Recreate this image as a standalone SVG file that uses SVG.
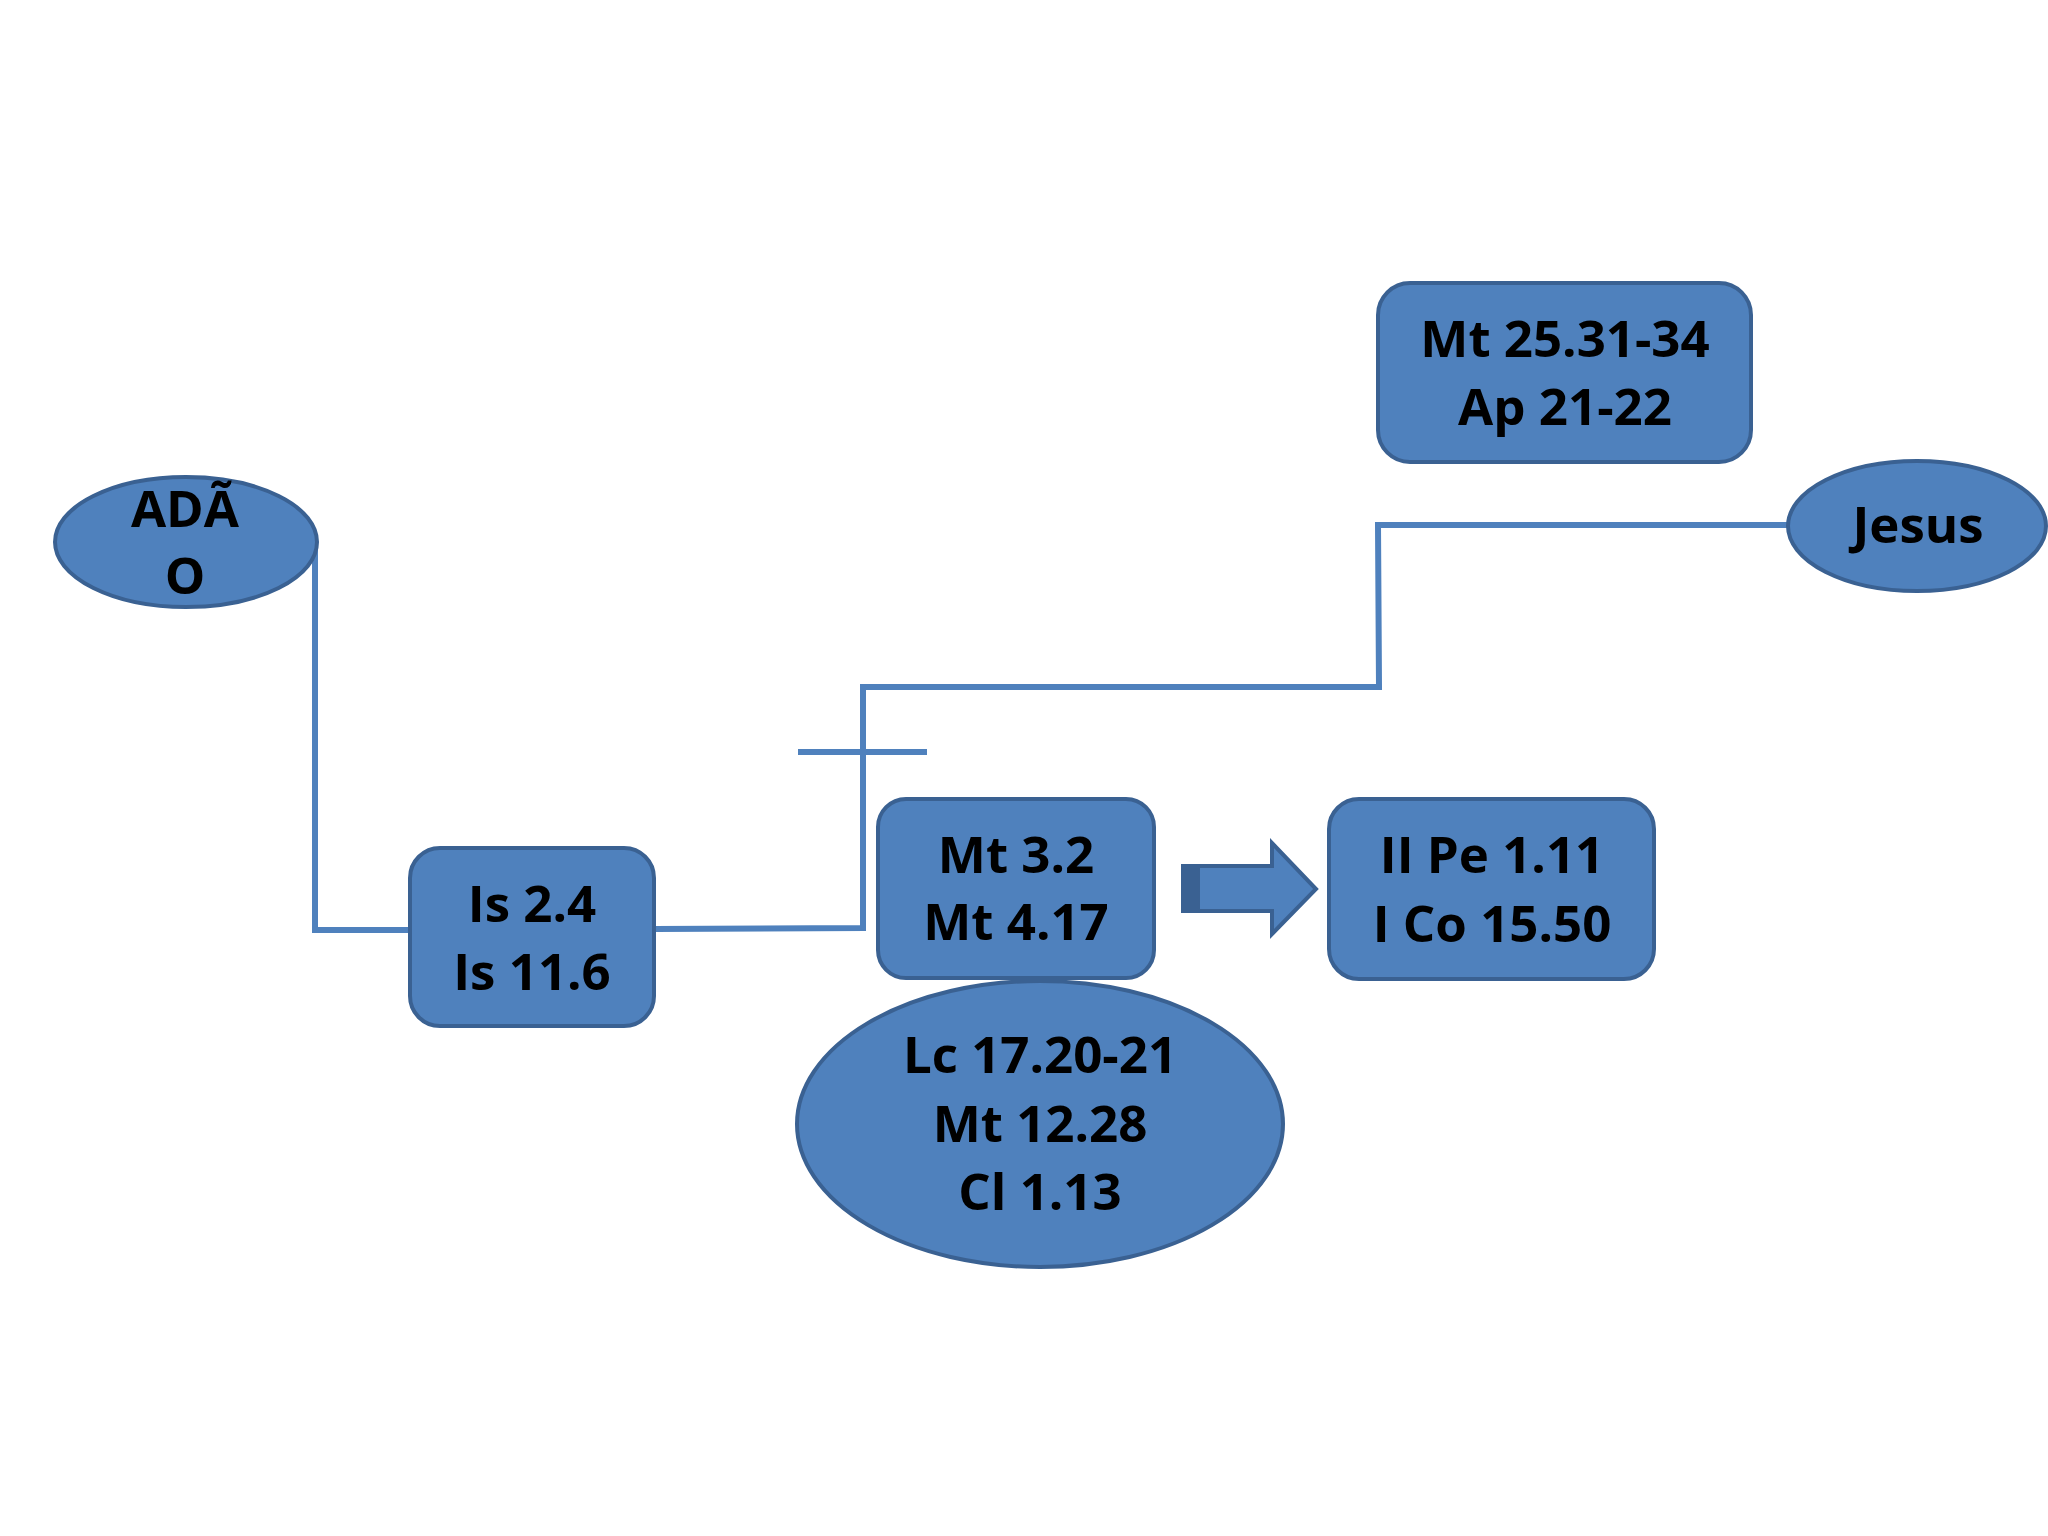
<svg xmlns="http://www.w3.org/2000/svg" width="2048" height="1536" viewBox="0 0 2048 1536">
<style>
.shape{fill:#4F81BD;stroke:#3A6192;stroke-width:4}
.lbl{font-family:"Open Sans","Liberation Sans",sans-serif;font-weight:700;font-size:51px;fill:#000;text-anchor:middle}
.conn{fill:none;stroke:#4F81BD;stroke-width:6}
</style>
<rect width="2048" height="1536" fill="#fff"/>
<g id="connectors">
<polyline class="conn" points="315,542 315,930 409,930"/>
<polyline class="conn" points="655,929 863,928 863,687 1379,687 1378,525 1787,525"/>
<line class="conn" x1="798" y1="752" x2="927" y2="752"/>
</g>
<g id="adao">
<ellipse class="shape" cx="186" cy="542" rx="131" ry="65"/>
<text class="lbl" x="185" y="527">ADÃ</text>
<text class="lbl" x="185" y="594">O</text>
</g>
<g id="mt25">
<rect class="shape" x="1378" y="283" width="373" height="179" rx="32"/>
<text class="lbl" x="1565" y="357">Mt 25.31-34</text>
<text class="lbl" x="1565" y="425">Ap 21-22</text>
</g>
<g id="jesus">
<ellipse class="shape" cx="1917" cy="526" rx="129" ry="65"/>
<text class="lbl" x="1918" y="543">Jesus</text>
</g>
<g id="is">
<rect class="shape" x="410" y="848" width="244" height="178" rx="30"/>
<text class="lbl" x="532" y="922">Is 2.4</text>
<text class="lbl" x="532" y="990">Is 11.6</text>
</g>
<g id="lc">
<ellipse class="shape" cx="1040" cy="1124" rx="243" ry="143"/>
<text class="lbl" x="1040" y="1073">Lc 17.20-21</text>
<text class="lbl" x="1040" y="1142">Mt 12.28</text>
<text class="lbl" x="1040" y="1210">Cl 1.13</text>
</g>
<g id="mt3">
<rect class="shape" x="878" y="799" width="276" height="179" rx="28"/>
<text class="lbl" x="1016" y="873">Mt 3.2</text>
<text class="lbl" x="1016" y="940">Mt 4.17</text>
</g>
<g id="arrow">
<polygon class="shape" points="1183,866 1272,866 1272,843 1316,889 1272,934 1272,911 1183,911"/>
<rect x="1185" y="868" width="15" height="41" fill="#3A6192"/>
</g>
<g id="iipe">
<rect class="shape" x="1329" y="799" width="325" height="180" rx="30"/>
<text class="lbl" x="1492" y="873">II Pe 1.11</text>
<text class="lbl" x="1492" y="942">I Co 15.50</text>
</g>
</svg>
